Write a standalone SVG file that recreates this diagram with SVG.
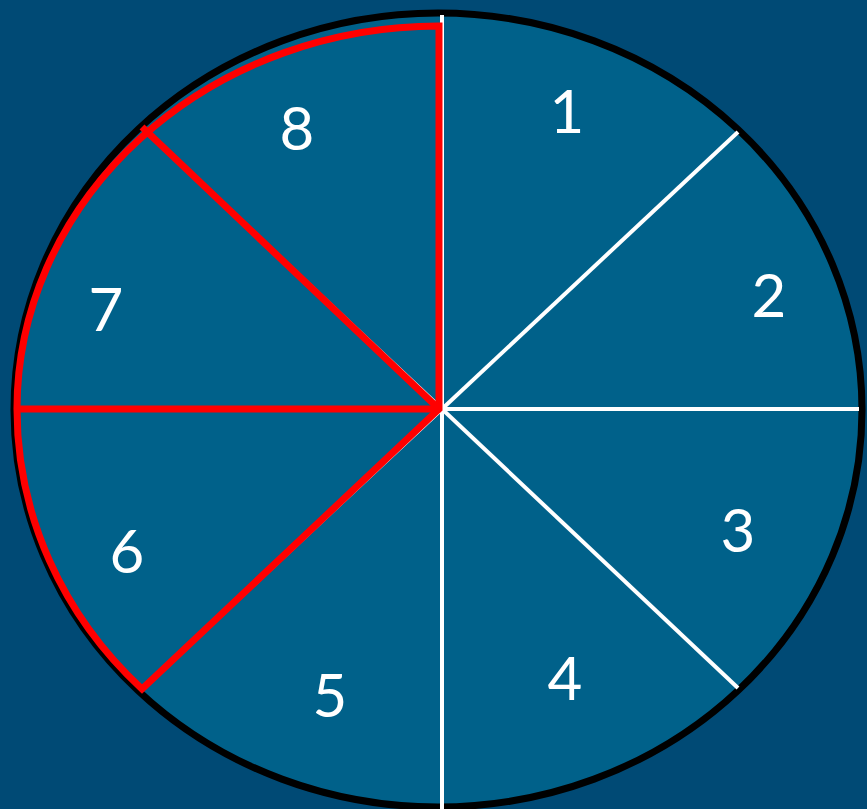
<svg xmlns="http://www.w3.org/2000/svg" width="867" height="809" viewBox="0 0 867 809">
<style>
.spoke{stroke:#ffffff;stroke-width:4;fill:none}
.red{stroke:#ff0000;stroke-width:7;fill:none;stroke-linejoin:miter}
.lbl{font-family:Lato,"Open Sans",sans-serif;font-size:60px;fill:#ffffff;text-anchor:middle}
</style>
<rect width="867" height="809" fill="#004a75"/>
<g id="disc">
<ellipse cx="438" cy="410" rx="424" ry="397" fill="#00618a" stroke="#000000" stroke-width="7"/>
</g>
<g id="connectors">
<line class="spoke" x1="442" y1="409" x2="442" y2="15"/>
<line class="spoke" x1="442" y1="409" x2="738" y2="132"/>
<line class="spoke" x1="442" y1="409" x2="859" y2="409"/>
<line class="spoke" x1="442" y1="409" x2="738" y2="688"/>
<line class="spoke" x1="442" y1="409" x2="442" y2="809"/>
<line class="spoke" x1="442" y1="409" x2="142" y2="128"/>
<line class="spoke" x1="442" y1="409" x2="16" y2="409"/>
<line class="spoke" x1="442" y1="409" x2="142" y2="689"/>
</g>
<g id="highlight">
<path class="red" d="M439,409 L439,26 A422,383 0 0 0 17,409 A422,394 0 0 0 142,689 Z"/>
<line class="red" x1="439" y1="409" x2="142" y2="127"/>
<line class="red" x1="439" y1="409" x2="17" y2="409"/>
</g>
<g id="n1"><text class="lbl" x="567" y="133">1</text></g>
<g id="n2"><text class="lbl" x="769" y="317">2</text></g>
<g id="n3"><text class="lbl" x="738" y="552">3</text></g>
<g id="n4"><text class="lbl" x="565" y="700">4</text></g>
<g id="n5"><text class="lbl" x="330" y="717">5</text></g>
<g id="n6"><text class="lbl" x="127" y="573">6</text></g>
<g id="n7"><text class="lbl" x="106" y="331">7</text></g>
<g id="n8"><text class="lbl" x="297" y="150">8</text></g>
</svg>
